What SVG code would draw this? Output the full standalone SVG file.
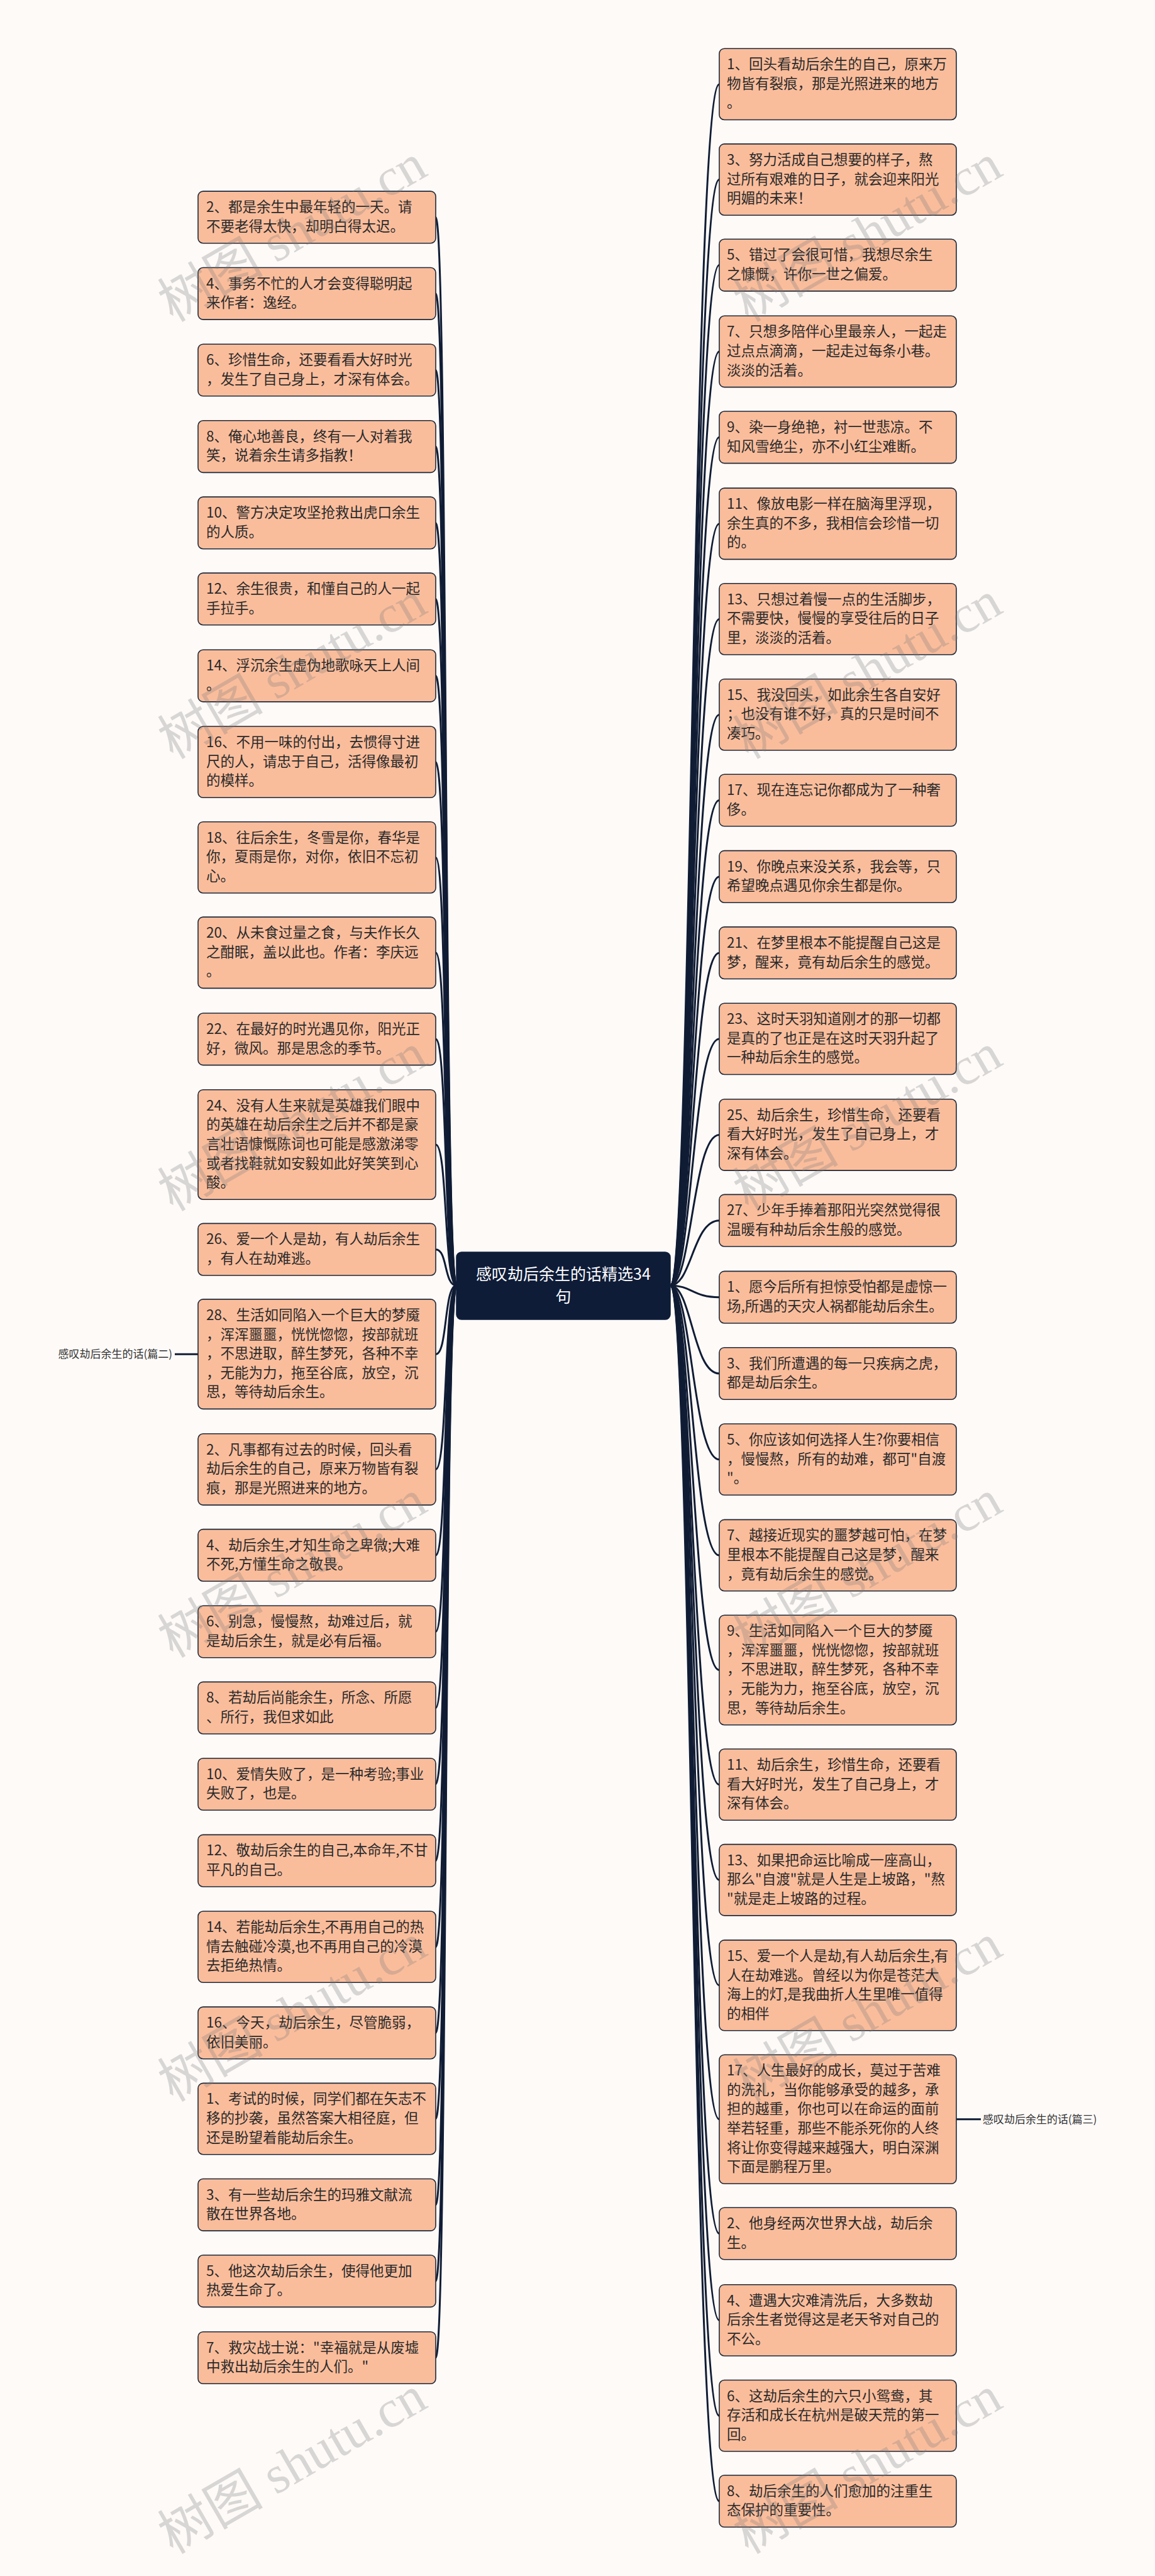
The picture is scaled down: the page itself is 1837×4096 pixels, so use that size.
<svg xmlns="http://www.w3.org/2000/svg" width="1837" height="4096" viewBox="0 0 1837 4096">
<style>
.n rect{fill:#fabd9c;stroke:#1f2937;stroke-width:1.6}
.n text{font-family:"Noto Sans CJK SC","Noto Sans",sans-serif;font-size:22.5px;fill:#2a2a2a}
.c path{fill:none;stroke:#101c34;stroke-width:3}
.lbl{font-family:"Noto Sans CJK SC","Noto Sans",sans-serif;font-size:17px;fill:#333}
.wm{font-family:"Liberation Serif","Noto Sans CJK SC",serif;font-size:84px;fill:#7a7a7a;opacity:0.28}
</style>
<rect x="0" y="0" width="1837" height="4096" fill="#fdfaf8"/>
<g class="c" id="connectors">
<path d="M726 2044 C706 2044 712 345.4 693 345.4"/>
<path d="M726 2044 C706 2044 712 466.8 693 466.8"/>
<path d="M726 2044 C706 2044 712 588.5 693 588.5"/>
<path d="M726 2044 C706 2044 712 710.1 693 710.1"/>
<path d="M726 2044 C706 2044 712 831.4 693 831.4"/>
<path d="M726 2044 C706 2044 712 952.4 693 952.4"/>
<path d="M726 2044 C706 2044 712 1074.6 693 1074.6"/>
<path d="M726 2044 C706 2044 712 1211.7 693 1211.7"/>
<path d="M726 2044 C706 2044 712 1363.4 693 1363.4"/>
<path d="M726 2044 C706 2044 712 1514.8 693 1514.8"/>
<path d="M726 2044 C706 2044 712 1652.3 693 1652.3"/>
<path d="M726 2044 C706 2044 712 1820 693 1820"/>
<path d="M726 2044 C706 2044 712 1986.7 693 1986.7"/>
<path d="M726 2044 C706 2044 712 2153.2 693 2153.2"/>
<path d="M726 2044 C706 2044 712 2336.5 693 2336.5"/>
<path d="M726 2044 C706 2044 712 2472.9 693 2472.9"/>
<path d="M726 2044 C706 2044 712 2594.5 693 2594.5"/>
<path d="M726 2044 C706 2044 712 2715.7 693 2715.7"/>
<path d="M726 2044 C706 2044 712 2837 693 2837"/>
<path d="M726 2044 C706 2044 712 2958.7 693 2958.7"/>
<path d="M726 2044 C706 2044 712 3095.7 693 3095.7"/>
<path d="M726 2044 C706 2044 712 3232.4 693 3232.4"/>
<path d="M726 2044 C706 2044 712 3369.1 693 3369.1"/>
<path d="M726 2044 C706 2044 712 3505.8 693 3505.8"/>
<path d="M726 2044 C706 2044 712 3627.1 693 3627.1"/>
<path d="M726 2044 C706 2044 712 3749 693 3749"/>
<path d="M1066 2044 C1100 2044 1102 133.9 1144 133.9"/>
<path d="M1066 2044 C1100 2044 1102 285.6 1144 285.6"/>
<path d="M1066 2044 C1100 2044 1102 421.6 1144 421.6"/>
<path d="M1066 2044 C1100 2044 1102 559 1144 559"/>
<path d="M1066 2044 C1100 2044 1102 695.3 1144 695.3"/>
<path d="M1066 2044 C1100 2044 1102 832.8 1144 832.8"/>
<path d="M1066 2044 C1100 2044 1102 984.4 1144 984.4"/>
<path d="M1066 2044 C1100 2044 1102 1136.4 1144 1136.4"/>
<path d="M1066 2044 C1100 2044 1102 1272.5 1144 1272.5"/>
<path d="M1066 2044 C1100 2044 1102 1393.9 1144 1393.9"/>
<path d="M1066 2044 C1100 2044 1102 1515.2 1144 1515.2"/>
<path d="M1066 2044 C1100 2044 1102 1651.9 1144 1651.9"/>
<path d="M1066 2044 C1100 2044 1102 1804.5 1144 1804.5"/>
<path d="M1066 2044 C1100 2044 1102 1940.7 1144 1940.7"/>
<path d="M1066 2044 C1100 2044 1102 2062.7 1144 2062.7"/>
<path d="M1066 2044 C1100 2044 1102 2184 1144 2184"/>
<path d="M1066 2044 C1100 2044 1102 2320.7 1144 2320.7"/>
<path d="M1066 2044 C1100 2044 1102 2473.1 1144 2473.1"/>
<path d="M1066 2044 C1100 2044 1102 2655.5 1144 2655.5"/>
<path d="M1066 2044 C1100 2044 1102 2837.7 1144 2837.7"/>
<path d="M1066 2044 C1100 2044 1102 2989.3 1144 2989.3"/>
<path d="M1066 2044 C1100 2044 1102 3156.9 1144 3156.9"/>
<path d="M1066 2044 C1100 2044 1102 3369.8 1144 3369.8"/>
<path d="M1066 2044 C1100 2044 1102 3551.5 1144 3551.5"/>
<path d="M1066 2044 C1100 2044 1102 3689.4 1144 3689.4"/>
<path d="M1066 2044 C1100 2044 1102 3841.2 1144 3841.2"/>
<path d="M1066 2044 C1100 2044 1102 3977 1144 3977"/>
<path d="M278 2153.2 L315 2153.2" stroke-width="2"/>
<path d="M1521 3369.8 L1560 3369.8" stroke-width="2"/>
</g>
<g id="root">
<rect x="726" y="1991" width="340" height="107" rx="8" fill="#0e1c38" stroke="#0e1c38" stroke-width="1.5"/>
<text x="896" y="2035" text-anchor="middle" font-family="Noto Sans CJK SC, Noto Sans, sans-serif" font-size="25" fill="#ffffff"><tspan x="896" y="2035">感叹劫后余生的话精选34</tspan><tspan x="896" y="2071">句</tspan></text>
</g>
<g id="label-left"><text class="lbl" x="274" y="2159" text-anchor="end">感叹劫后余生的话(篇二)</text></g>
<g id="label-right"><text class="lbl" x="1563" y="3376">感叹劫后余生的话(篇三)</text></g>
<g class="n" id="L1"><rect x="315" y="304.1" width="378" height="82.6" rx="8"/><text><tspan x="328" y="337.1">2、都是余生中最年轻的一天。请</tspan><tspan x="328" y="367.7">不要老得太快，却明白得太迟。</tspan></text></g>
<g class="n" id="L2"><rect x="315" y="425.5" width="378" height="82.6" rx="8"/><text><tspan x="328" y="458.5">4、事务不忙的人才会变得聪明起</tspan><tspan x="328" y="489.1">来作者：逸经。</tspan></text></g>
<g class="n" id="L3"><rect x="315" y="547.2" width="378" height="82.6" rx="8"/><text><tspan x="328" y="580.2">6、珍惜生命，还要看看大好时光</tspan><tspan x="328" y="610.8">，发生了自己身上，才深有体会。</tspan></text></g>
<g class="n" id="L4"><rect x="315" y="668.8" width="378" height="82.6" rx="8"/><text><tspan x="328" y="701.8">8、俺心地善良，终有一人对着我</tspan><tspan x="328" y="732.4">笑，说着余生请多指教！</tspan></text></g>
<g class="n" id="L5"><rect x="315" y="790.1" width="378" height="82.6" rx="8"/><text><tspan x="328" y="823.1">10、警方决定攻坚抢救出虎口余生</tspan><tspan x="328" y="853.7">的人质。</tspan></text></g>
<g class="n" id="L6"><rect x="315" y="911.1" width="378" height="82.6" rx="8"/><text><tspan x="328" y="944.1">12、余生很贵，和懂自己的人一起</tspan><tspan x="328" y="974.7">手拉手。</tspan></text></g>
<g class="n" id="L7"><rect x="315" y="1033.3" width="378" height="82.6" rx="8"/><text><tspan x="328" y="1066.3">14、浮沉余生虚伪地歌咏天上人间</tspan><tspan x="328" y="1096.9">。</tspan></text></g>
<g class="n" id="L8"><rect x="315" y="1155" width="378" height="113.3" rx="8"/><text><tspan x="328" y="1188">16、不用一味的付出，去惯得寸进</tspan><tspan x="328" y="1218.6">尺的人，请忠于自己，活得像最初</tspan><tspan x="328" y="1249.2">的模样。</tspan></text></g>
<g class="n" id="L9"><rect x="315" y="1306.7" width="378" height="113.3" rx="8"/><text><tspan x="328" y="1339.7">18、往后余生，冬雪是你，春华是</tspan><tspan x="328" y="1370.3">你，夏雨是你，对你，依旧不忘初</tspan><tspan x="328" y="1400.9">心。</tspan></text></g>
<g class="n" id="L10"><rect x="315" y="1458.1" width="378" height="113.3" rx="8"/><text><tspan x="328" y="1491.1">20、从未食过量之食，与夫作长久</tspan><tspan x="328" y="1521.7">之酣眠，盖以此也。作者：李庆远</tspan><tspan x="328" y="1552.3">。</tspan></text></g>
<g class="n" id="L11"><rect x="315" y="1611" width="378" height="82.6" rx="8"/><text><tspan x="328" y="1644">22、在最好的时光遇见你，阳光正</tspan><tspan x="328" y="1674.6">好，微风。那是思念的季节。</tspan></text></g>
<g class="n" id="L12"><rect x="315" y="1732.7" width="378" height="174.5" rx="8"/><text><tspan x="328" y="1765.7">24、没有人生来就是英雄我们眼中</tspan><tspan x="328" y="1796.3">的英雄在劫后余生之后并不都是豪</tspan><tspan x="328" y="1826.9">言壮语慷慨陈词也可能是感激涕零</tspan><tspan x="328" y="1857.5">或者找鞋就如安毅如此好笑笑到心</tspan><tspan x="328" y="1888.1">酸。</tspan></text></g>
<g class="n" id="L13"><rect x="315" y="1945.4" width="378" height="82.6" rx="8"/><text><tspan x="328" y="1978.4">26、爱一个人是劫，有人劫后余生</tspan><tspan x="328" y="2009">，有人在劫难逃。</tspan></text></g>
<g class="n" id="L14"><rect x="315" y="2065.9" width="378" height="174.5" rx="8"/><text><tspan x="328" y="2098.9">28、生活如同陷入一个巨大的梦魇</tspan><tspan x="328" y="2129.5">，浑浑噩噩，恍恍惚惚，按部就班</tspan><tspan x="328" y="2160.1">，不思进取，醉生梦死，各种不幸</tspan><tspan x="328" y="2190.7">，无能为力，拖至谷底，放空，沉</tspan><tspan x="328" y="2221.3">思，等待劫后余生。</tspan></text></g>
<g class="n" id="L15"><rect x="315" y="2279.8" width="378" height="113.3" rx="8"/><text><tspan x="328" y="2312.8">2、凡事都有过去的时候，回头看</tspan><tspan x="328" y="2343.4">劫后余生的自己，原来万物皆有裂</tspan><tspan x="328" y="2374">痕，那是光照进来的地方。</tspan></text></g>
<g class="n" id="L16"><rect x="315" y="2431.6" width="378" height="82.6" rx="8"/><text><tspan x="328" y="2464.6">4、劫后余生,才知生命之卑微;大难</tspan><tspan x="328" y="2495.2">不死,方懂生命之敬畏。</tspan></text></g>
<g class="n" id="L17"><rect x="315" y="2553.2" width="378" height="82.6" rx="8"/><text><tspan x="328" y="2586.2">6、别急，慢慢熬，劫难过后，就</tspan><tspan x="328" y="2616.8">是劫后余生，就是必有后福。</tspan></text></g>
<g class="n" id="L18"><rect x="315" y="2674.4" width="378" height="82.6" rx="8"/><text><tspan x="328" y="2707.4">8、若劫后尚能余生，所念、所愿</tspan><tspan x="328" y="2738">、所行，我但求如此</tspan></text></g>
<g class="n" id="L19"><rect x="315" y="2795.7" width="378" height="82.6" rx="8"/><text><tspan x="328" y="2828.7">10、爱情失败了，是一种考验;事业</tspan><tspan x="328" y="2859.3">失败了，也是。</tspan></text></g>
<g class="n" id="L20"><rect x="315" y="2917.4" width="378" height="82.6" rx="8"/><text><tspan x="328" y="2950.4">12、敬劫后余生的自己,本命年,不甘</tspan><tspan x="328" y="2981">平凡的自己。</tspan></text></g>
<g class="n" id="L21"><rect x="315" y="3039" width="378" height="113.3" rx="8"/><text><tspan x="328" y="3072">14、若能劫后余生,不再用自己的热</tspan><tspan x="328" y="3102.6">情去触碰冷漠,也不再用自己的冷漠</tspan><tspan x="328" y="3133.2">去拒绝热情。</tspan></text></g>
<g class="n" id="L22"><rect x="315" y="3191.1" width="378" height="82.6" rx="8"/><text><tspan x="328" y="3224.1">16、今天，劫后余生，尽管脆弱，</tspan><tspan x="328" y="3254.7">依旧美丽。</tspan></text></g>
<g class="n" id="L23"><rect x="315" y="3312.4" width="378" height="113.3" rx="8"/><text><tspan x="328" y="3345.4">1、考试的时候，同学们都在矢志不</tspan><tspan x="328" y="3376">移的抄袭，虽然答案大相径庭，但</tspan><tspan x="328" y="3406.6">还是盼望着能劫后余生。</tspan></text></g>
<g class="n" id="L24"><rect x="315" y="3464.5" width="378" height="82.6" rx="8"/><text><tspan x="328" y="3497.5">3、有一些劫后余生的玛雅文献流</tspan><tspan x="328" y="3528.1">散在世界各地。</tspan></text></g>
<g class="n" id="L25"><rect x="315" y="3585.8" width="378" height="82.6" rx="8"/><text><tspan x="328" y="3618.8">5、他这次劫后余生，使得他更加</tspan><tspan x="328" y="3649.4">热爱生命了。</tspan></text></g>
<g class="n" id="L26"><rect x="315" y="3707.7" width="378" height="82.6" rx="8"/><text><tspan x="328" y="3740.7">7、救灾战士说："幸福就是从废墟</tspan><tspan x="328" y="3771.3">中救出劫后余生的人们。"</tspan></text></g>
<g class="n" id="R1"><rect x="1144" y="77.2" width="377" height="113.3" rx="8"/><text><tspan x="1156" y="110.2">1、回头看劫后余生的自己，原来万</tspan><tspan x="1156" y="140.8">物皆有裂痕，那是光照进来的地方</tspan><tspan x="1156" y="171.4">。</tspan></text></g>
<g class="n" id="R2"><rect x="1144" y="228.9" width="377" height="113.3" rx="8"/><text><tspan x="1156" y="261.9">3、努力活成自己想要的样子，熬</tspan><tspan x="1156" y="292.5">过所有艰难的日子，就会迎来阳光</tspan><tspan x="1156" y="323.1">明媚的未来！</tspan></text></g>
<g class="n" id="R3"><rect x="1144" y="380.3" width="377" height="82.6" rx="8"/><text><tspan x="1156" y="413.3">5、错过了会很可惜，我想尽余生</tspan><tspan x="1156" y="443.9">之慷慨，许你一世之偏爱。</tspan></text></g>
<g class="n" id="R4"><rect x="1144" y="502.3" width="377" height="113.3" rx="8"/><text><tspan x="1156" y="535.3">7、只想多陪伴心里最亲人，一起走</tspan><tspan x="1156" y="565.9">过点点滴滴，一起走过每条小巷。</tspan><tspan x="1156" y="596.5">淡淡的活着。</tspan></text></g>
<g class="n" id="R5"><rect x="1144" y="654" width="377" height="82.6" rx="8"/><text><tspan x="1156" y="687">9、染一身绝艳，衬一世悲凉。不</tspan><tspan x="1156" y="717.6">知风雪绝尘，亦不小红尘难断。</tspan></text></g>
<g class="n" id="R6"><rect x="1144" y="776.1" width="377" height="113.3" rx="8"/><text><tspan x="1156" y="809.1">11、像放电影一样在脑海里浮现，</tspan><tspan x="1156" y="839.7">余生真的不多，我相信会珍惜一切</tspan><tspan x="1156" y="870.3">的。</tspan></text></g>
<g class="n" id="R7"><rect x="1144" y="927.7" width="377" height="113.3" rx="8"/><text><tspan x="1156" y="960.7">13、只想过着慢一点的生活脚步，</tspan><tspan x="1156" y="991.3">不需要快，慢慢的享受往后的日子</tspan><tspan x="1156" y="1021.9">里，淡淡的活着。</tspan></text></g>
<g class="n" id="R8"><rect x="1144" y="1079.7" width="377" height="113.3" rx="8"/><text><tspan x="1156" y="1112.7">15、我没回头，如此余生各自安好</tspan><tspan x="1156" y="1143.3">；也没有谁不好，真的只是时间不</tspan><tspan x="1156" y="1173.9">凑巧。</tspan></text></g>
<g class="n" id="R9"><rect x="1144" y="1231.2" width="377" height="82.6" rx="8"/><text><tspan x="1156" y="1264.2">17、现在连忘记你都成为了一种奢</tspan><tspan x="1156" y="1294.8">侈。</tspan></text></g>
<g class="n" id="R10"><rect x="1144" y="1352.6" width="377" height="82.6" rx="8"/><text><tspan x="1156" y="1385.6">19、你晚点来没关系，我会等，只</tspan><tspan x="1156" y="1416.2">希望晚点遇见你余生都是你。</tspan></text></g>
<g class="n" id="R11"><rect x="1144" y="1473.9" width="377" height="82.6" rx="8"/><text><tspan x="1156" y="1506.9">21、在梦里根本不能提醒自己这是</tspan><tspan x="1156" y="1537.5">梦，醒来，竟有劫后余生的感觉。</tspan></text></g>
<g class="n" id="R12"><rect x="1144" y="1595.2" width="377" height="113.3" rx="8"/><text><tspan x="1156" y="1628.2">23、这时天羽知道刚才的那一切都</tspan><tspan x="1156" y="1658.8">是真的了也正是在这时天羽升起了</tspan><tspan x="1156" y="1689.4">一种劫后余生的感觉。</tspan></text></g>
<g class="n" id="R13"><rect x="1144" y="1747.8" width="377" height="113.3" rx="8"/><text><tspan x="1156" y="1780.8">25、劫后余生，珍惜生命，还要看</tspan><tspan x="1156" y="1811.4">看大好时光，发生了自己身上，才</tspan><tspan x="1156" y="1842">深有体会。</tspan></text></g>
<g class="n" id="R14"><rect x="1144" y="1899.4" width="377" height="82.6" rx="8"/><text><tspan x="1156" y="1932.4">27、少年手捧着那阳光突然觉得很</tspan><tspan x="1156" y="1963">温暖有种劫后余生般的感觉。</tspan></text></g>
<g class="n" id="R15"><rect x="1144" y="2021.4" width="377" height="82.6" rx="8"/><text><tspan x="1156" y="2054.4">1、愿今后所有担惊受怕都是虚惊一</tspan><tspan x="1156" y="2085">场,所遇的天灾人祸都能劫后余生。</tspan></text></g>
<g class="n" id="R16"><rect x="1144" y="2142.7" width="377" height="82.6" rx="8"/><text><tspan x="1156" y="2175.7">3、我们所遭遇的每一只疾病之虎，</tspan><tspan x="1156" y="2206.3">都是劫后余生。</tspan></text></g>
<g class="n" id="R17"><rect x="1144" y="2264" width="377" height="113.3" rx="8"/><text><tspan x="1156" y="2297">5、你应该如何选择人生?你要相信</tspan><tspan x="1156" y="2327.6">，慢慢熬，所有的劫难，都可"自渡</tspan><tspan x="1156" y="2358.2">"。</tspan></text></g>
<g class="n" id="R18"><rect x="1144" y="2416.4" width="377" height="113.3" rx="8"/><text><tspan x="1156" y="2449.4">7、越接近现实的噩梦越可怕，在梦</tspan><tspan x="1156" y="2480">里根本不能提醒自己这是梦，醒来</tspan><tspan x="1156" y="2510.6">，竟有劫后余生的感觉。</tspan></text></g>
<g class="n" id="R19"><rect x="1144" y="2568.2" width="377" height="174.5" rx="8"/><text><tspan x="1156" y="2601.2">9、生活如同陷入一个巨大的梦魇</tspan><tspan x="1156" y="2631.8">，浑浑噩噩，恍恍惚惚，按部就班</tspan><tspan x="1156" y="2662.4">，不思进取，醉生梦死，各种不幸</tspan><tspan x="1156" y="2693">，无能为力，拖至谷底，放空，沉</tspan><tspan x="1156" y="2723.6">思，等待劫后余生。</tspan></text></g>
<g class="n" id="R20"><rect x="1144" y="2781" width="377" height="113.3" rx="8"/><text><tspan x="1156" y="2814">11、劫后余生，珍惜生命，还要看</tspan><tspan x="1156" y="2844.6">看大好时光，发生了自己身上，才</tspan><tspan x="1156" y="2875.2">深有体会。</tspan></text></g>
<g class="n" id="R21"><rect x="1144" y="2932.6" width="377" height="113.3" rx="8"/><text><tspan x="1156" y="2965.6">13、如果把命运比喻成一座高山，</tspan><tspan x="1156" y="2996.2">那么"自渡"就是人生是上坡路，"熬</tspan><tspan x="1156" y="3026.8">"就是走上坡路的过程。</tspan></text></g>
<g class="n" id="R22"><rect x="1144" y="3084.9" width="377" height="143.9" rx="8"/><text><tspan x="1156" y="3117.9">15、爱一个人是劫,有人劫后余生,有</tspan><tspan x="1156" y="3148.5">人在劫难逃。曾经以为你是苍茫大</tspan><tspan x="1156" y="3179.1">海上的灯,是我曲折人生里唯一值得</tspan><tspan x="1156" y="3209.7">的相伴</tspan></text></g>
<g class="n" id="R23"><rect x="1144" y="3267.2" width="377" height="205.1" rx="8"/><text><tspan x="1156" y="3300.2">17、人生最好的成长，莫过于苦难</tspan><tspan x="1156" y="3330.8">的洗礼，当你能够承受的越多，承</tspan><tspan x="1156" y="3361.4">担的越重，你也可以在命运的面前</tspan><tspan x="1156" y="3392">举若轻重，那些不能杀死你的人终</tspan><tspan x="1156" y="3422.6">将让你变得越来越强大，明白深渊</tspan><tspan x="1156" y="3453.2">下面是鹏程万里。</tspan></text></g>
<g class="n" id="R24"><rect x="1144" y="3510.2" width="377" height="82.6" rx="8"/><text><tspan x="1156" y="3543.2">2、他身经两次世界大战，劫后余</tspan><tspan x="1156" y="3573.8">生。</tspan></text></g>
<g class="n" id="R25"><rect x="1144" y="3632.7" width="377" height="113.3" rx="8"/><text><tspan x="1156" y="3665.7">4、遭遇大灾难清洗后，大多数劫</tspan><tspan x="1156" y="3696.3">后余生者觉得这是老天爷对自己的</tspan><tspan x="1156" y="3726.9">不公。</tspan></text></g>
<g class="n" id="R26"><rect x="1144" y="3784.5" width="377" height="113.3" rx="8"/><text><tspan x="1156" y="3817.5">6、这劫后余生的六只小鸳鸯，其</tspan><tspan x="1156" y="3848.1">存活和成长在杭州是破天荒的第一</tspan><tspan x="1156" y="3878.7">回。</tspan></text></g>
<g class="n" id="R27"><rect x="1144" y="3935.7" width="377" height="82.6" rx="8"/><text><tspan x="1156" y="3968.7">8、劫后余生的人们愈加的注重生</tspan><tspan x="1156" y="3999.3">态保护的重要性。</tspan></text></g>
<g id="watermarks">
<text class="wm" transform="translate(465 371) rotate(-30)" text-anchor="middle" y="28">树图 shutu.cn</text>
<text class="wm" transform="translate(1380 371) rotate(-30)" text-anchor="middle" y="28">树图 shutu.cn</text>
<text class="wm" transform="translate(465 1066) rotate(-30)" text-anchor="middle" y="28">树图 shutu.cn</text>
<text class="wm" transform="translate(1380 1066) rotate(-30)" text-anchor="middle" y="28">树图 shutu.cn</text>
<text class="wm" transform="translate(465 1785) rotate(-30)" text-anchor="middle" y="28">树图 shutu.cn</text>
<text class="wm" transform="translate(1380 1785) rotate(-30)" text-anchor="middle" y="28">树图 shutu.cn</text>
<text class="wm" transform="translate(465 2495) rotate(-30)" text-anchor="middle" y="28">树图 shutu.cn</text>
<text class="wm" transform="translate(1380 2495) rotate(-30)" text-anchor="middle" y="28">树图 shutu.cn</text>
<text class="wm" transform="translate(465 3201) rotate(-30)" text-anchor="middle" y="28">树图 shutu.cn</text>
<text class="wm" transform="translate(1380 3201) rotate(-30)" text-anchor="middle" y="28">树图 shutu.cn</text>
<text class="wm" transform="translate(465 3920) rotate(-30)" text-anchor="middle" y="28">树图 shutu.cn</text>
<text class="wm" transform="translate(1380 3920) rotate(-30)" text-anchor="middle" y="28">树图 shutu.cn</text>
</g>
</svg>
